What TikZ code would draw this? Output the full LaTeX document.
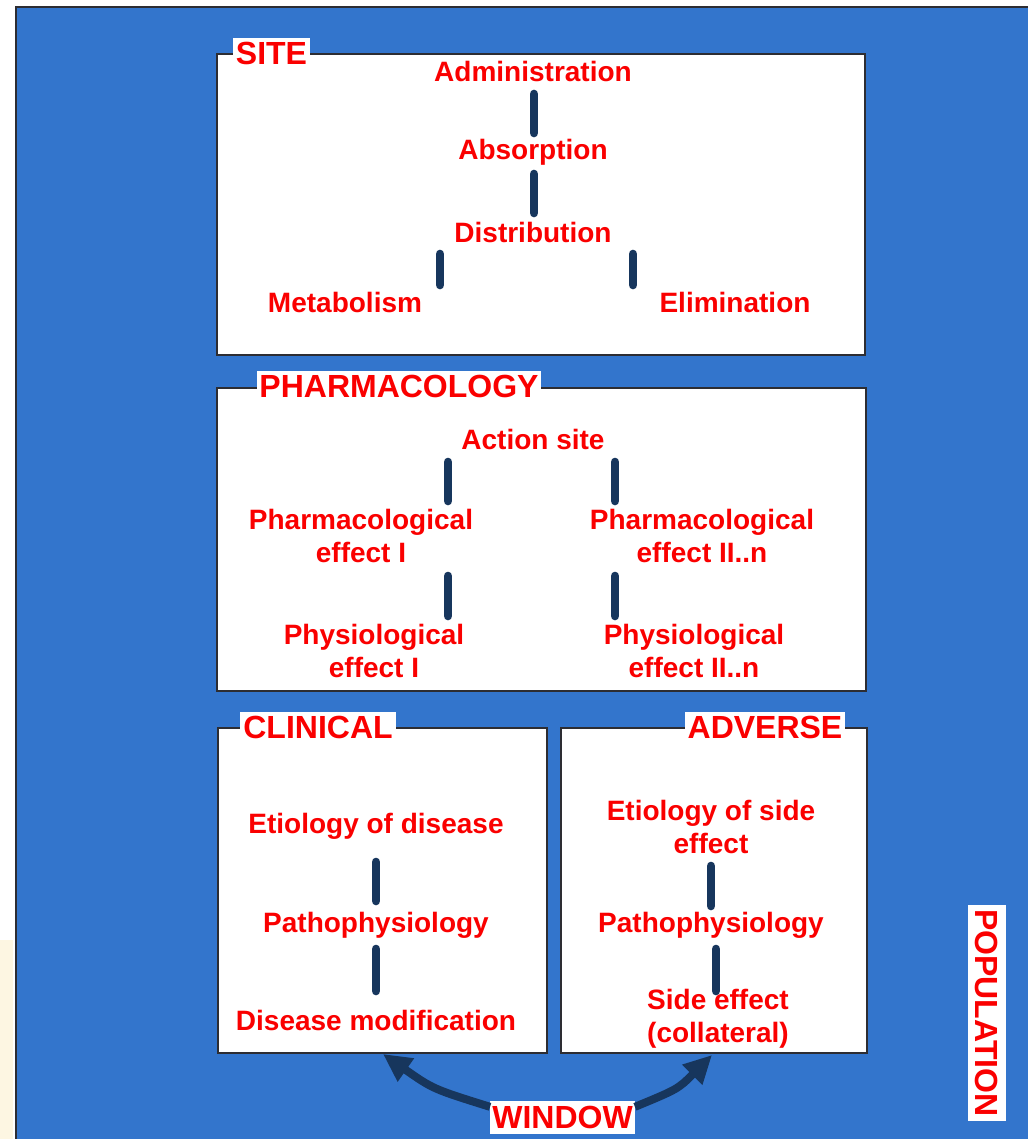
\documentclass[tikz,border=0pt]{standalone}
\usepackage{fontspec}
\setmainfont{Liberation Sans}
\usetikzlibrary{arrows.meta,calc}
\definecolor{bgblue}{RGB}{51,117,204}
\definecolor{navy}{RGB}{23,54,93}
\definecolor{boxline}{RGB}{45,45,50}
\definecolor{cream}{RGB}{253,246,226}
\definecolor{txtred}{RGB}{250,0,0}
\begin{document}
\begin{tikzpicture}[x=0.75pt,y=-0.75pt,
  txt/.style={text=txtred, font=\bfseries\fontsize{21}{25}\selectfont, inner sep=0pt, align=center},
  ttl/.style={text=txtred, fill=white, font=\bfseries\fontsize{24}{28}\selectfont, inner xsep=2.2pt, inner ysep=2.6pt},
  panel/.style={draw=boxline, fill=white, line width=1.1pt},
  bar/.style={draw=navy, line width=6.5pt, line cap=round},
  arc/.style={draw=navy, line width=6pt, -{Triangle[length=21pt,width=20pt]}}]
\useasboundingbox (0,0) rectangle (1028,1139);
% background
\fill[white] (0,0) rectangle (1028,1139);
\fill[cream] (0,940) rectangle (13,1139);
\draw[boxline, line width=1.1pt, fill=bgblue] (16,7) rectangle (1034,1145);

% SITE
\draw[panel] (217,54) rectangle (865,355);
\node[ttl] (site) at (271.5,53) {SITE};
\node[txt] (adm) at (533,71) {Administration};
\node[txt] (abs) at (533,152) {Absorption};
\node[txt] (dist) at (533,232) {Distribution};
\node[txt] (metab) at (345,302) {Metabolism};
\node[txt] (elim) at (735,302) {Elimination};
\draw[bar] (534,94) -- (534,133);
\draw[bar] (534,174) -- (534,213);
\draw[bar] (440,254) -- (440,285);
\draw[bar] (633,254) -- (633,285);

% PHARMACOLOGY
\draw[panel] (217,388) rectangle (866,691);
\node[ttl] (pharm) at (399,386) {PHARMACOLOGY};
\node[txt] (action) at (533,439) {Action site};
\node[txt] (pe1) at (361,536) {Pharmacological\\effect I};
\node[txt] (pe2) at (702,536) {Pharmacological\\effect II..n};
\node[txt] (ph1) at (374,651) {Physiological\\effect I};
\node[txt] (ph2) at (694,651) {Physiological\\effect II..n};
\draw[bar] (448,462) -- (448,501);
\draw[bar] (615,462) -- (615,501);
\draw[bar] (448,576) -- (448,616);
\draw[bar] (615,576) -- (615,616);

% CLINICAL
\draw[panel] (218,728) rectangle (547,1053);
\node[ttl] (clinl) at (318,727) {CLINICAL};
\node[txt] (eti1) at (376,826) {Etiology of disease};
\node[txt] (path1) at (376,925) {Pathophysiology};
\node[txt] (dis) at (376,1020) {Disease modification};
\draw[bar] (376,862) -- (376,901);
\draw[bar] (376,949) -- (376,991);

% ADVERSE
\draw[panel] (561,728) rectangle (867,1053);
\node[ttl] (advl) at (765,727) {ADVERSE};
\node[txt] (eti2) at (711,827) {Etiology of side\\effect};
\node[txt] (path2) at (711,925) {Pathophysiology};
\node[txt] (side) at (718,1019) {Side effect\\(collateral)};
\draw[bar] (711,866) -- (711,906);
\draw[bar] (716,949) -- (716,991);

% arrow targets just below the two lower panels
\coordinate (clinb) at (383,1054);
\coordinate (advb) at (712,1055);

% WINDOW
\node[ttl, inner xsep=1.5pt, inner ysep=4pt] (window) at (562.5,1117.5) {WINDOW};
\draw[arc] ([yshift=8pt]window.west) .. controls (433,1089) .. (clinb);
\draw[arc] ([yshift=8pt]window.east) .. controls (678,1089) .. (advb);

% POPULATION
\node[ttl, rotate=-90, inner xsep=3.4pt, inner ysep=5.5pt] (pop) at (987,1013) {POPULATION};
\end{tikzpicture}
\end{document}
